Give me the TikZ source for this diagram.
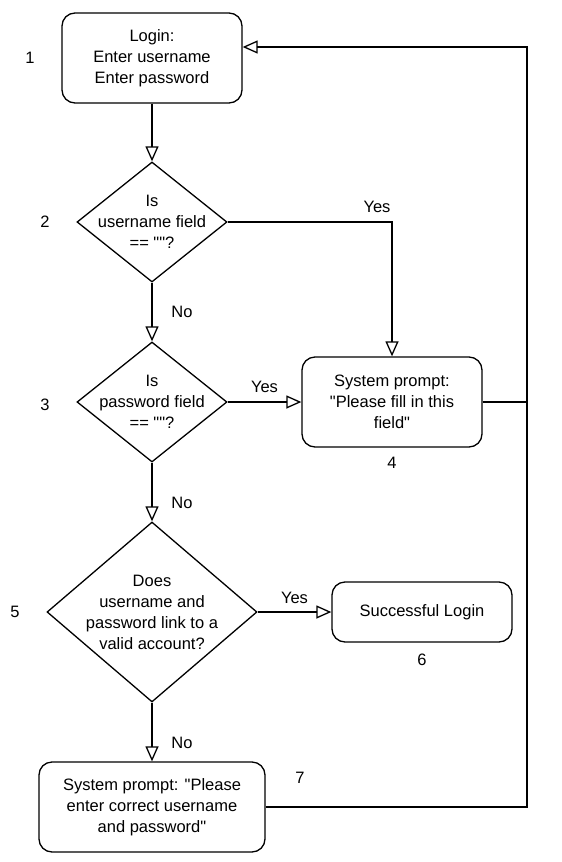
\documentclass[tikz,border=0pt]{standalone}
\usepackage{fontspec}
\setmainfont{Liberation Sans}[Ligatures=TeXOff]
\usetikzlibrary{shapes.geometric,arrows.meta}
\begin{document}
\begin{tikzpicture}[x=1pt,y=-1pt,font=\fontsize{16.5}{21}\selectfont]
		\tikzset{step box/.style = {draw,rounded corners=13pt,align=center,minimum width=180pt,minimum height=90pt,inner sep=0pt}}
		\tikzset{decision/.style = {shape=diamond,draw,inner sep=0pt}}
		\tikzset{edge/.style = {-{Triangle[open,length=15pt,width=13pt]}}}
		\tikzset{every path/.style = {line width=1.3pt}}
		\useasboundingbox (0,0) rectangle (562,862);
		\node[step box] (login) at (152,58) {Login:\\Enter username\\Enter password};
		\node[decision,minimum width=150pt,minimum height=120pt,label={[align=center]center:Is\\username field\\== ""?}] (user) at (152,222) {};
		\node[decision,minimum width=150pt,minimum height=120pt,label={[align=center]center:Is\\password field\\== ""?}] (pass) at (152,402) {};
		\node[step box] (fill) at (392,402) {System prompt:\\"Please fill in this\\field"};
		\node[decision,minimum width=210pt,minimum height=180pt,label={[align=center]center:Does\\username and\\password link to a\\valid account?}] (valid) at (152,612) {};
		\node[step box,minimum height=60pt] (success) at (422,612) {Successful Login};
		\node[step box,minimum width=226pt] (wrong) at (152,807) {System prompt: "Please\\enter correct username\\and password"};
		\node (n1) at (30,58) {1};
		\node (n2) at (45,222) {2};
		\node (n3) at (45,405) {3};
		\node (n4) at (392,463) {4};
		\node (n5) at (15,612) {5};
		\node (n6) at (422,660) {6};
		\node (n7) at (300,778) {7};
		\coordinate (backB) at (527,807);
		\coordinate (backT) at (527,47);
		\path[edge,draw] (login) -- (user);
		\path[edge,draw] (user.east) -| node[pos=.5,xshift=-15pt,yshift=15pt] {Yes} (fill.north);
		\path[edge,draw] (user) -- node[xshift=30pt] {No} (pass);
		\path[edge,draw] (pass) -- node[yshift=15pt] {Yes} (fill);
		\path[edge,draw] (pass) -- node[xshift=30pt,yshift=-11pt] {No} (valid);
		\path[edge,draw] (valid) -- node[yshift=14pt] {Yes} (success);
		\path[edge,draw] (valid) -- node[xshift=30pt,yshift=-11pt] {No} (wrong);
		\path[draw] (fill.east) -- (fill.east -| backB);
		\path[edge,draw] (wrong.east) -- (backB) -- (backT) -- (login.east |- backT);
	\end{tikzpicture}
\end{document}
